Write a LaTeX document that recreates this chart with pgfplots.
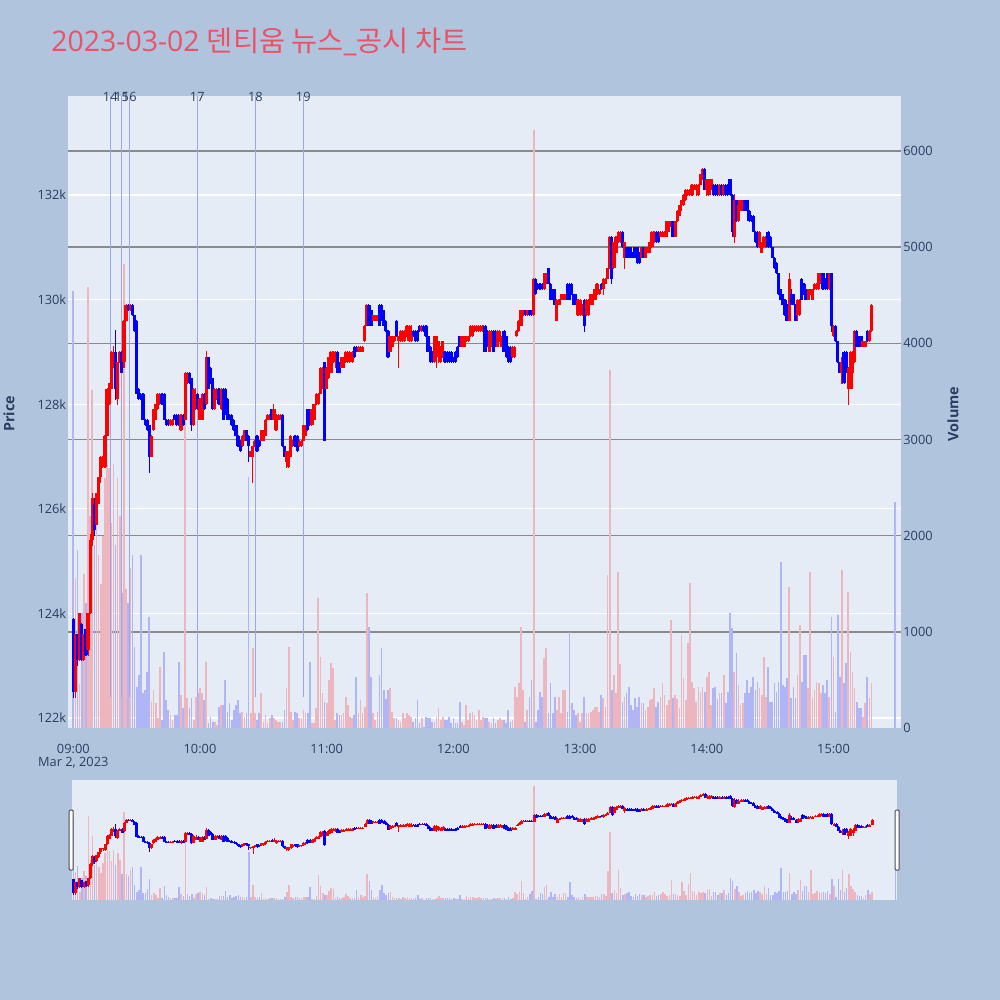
\documentclass[border=0pt]{standalone}
\usepackage{fontspec}
\setmainfont{Open Sans}
\newfontfamily\krfont{Noto Sans CJK KR}
\usepackage{pgfplots}
\usepackage{pgfplotstable}
\pgfplotsset{compat=1.18}

\definecolor{pagebg}{HTML}{B0C4DE}
\definecolor{plotbg}{HTML}{E5ECF6}
\definecolor{fontc}{HTML}{2A3F5F}
\definecolor{titlec}{HTML}{EB5268}
\definecolor{upc}{HTML}{FF0000}
\definecolor{downc}{HTML}{0000FF}
\definecolor{volr}{HTML}{EDB5BD}
\definecolor{volb}{HTML}{B0B5F6}
\definecolor{volgrid}{HTML}{8A8A8A}
\definecolor{newsc}{HTML}{9AA6F2}

% one-minute candles: minutes after 09:00, open, high, low, close (in 100 KRW), volume
\pgfplotstableread{
t o h l c v
0 1239 1239 1224 1225 4540
1 1225 1236 1224 1236 1560
2 1236 1236 1230 1231 1850
3 1231 1240 1231 1240 460
4 1238 1238 1231 1231 1200
5 1231 1236 1231 1236 1600
6 1237 1237 1232 1232 1300
7 1233 1240 1232 1240 4590
8 1240 1255 1240 1254 2200
9 1254 1263 1253 1262 3515
10 1261 1262 1255 1256 1900
11 1257 1263 1257 1263 2300
12 1261 1266 1261 1266 1800
13 1266 1270 1265 1270 1500
14 1269 1270 1268 1270 2000
15 1268 1274 1268 1274 2600
16 1274 1283 1274 1283 2740
17 1280 1284 1280 1284 2700
18 1283 1290 1283 1290 2130
19 1287 1291 1287 1289 2750
20 1290 1294 1281 1283 1900
21 1281 1288 1280 1288 2600
22 1288 1290 1288 1290 2200
23 1290 1290 1286 1286 1400
24 1288 1296 1287 1296 4830
25 1296 1299 1296 1299 1450
26 1299 1299 1298 1298 1300
27 1298 1299 1298 1299 1660
28 1299 1299 1297 1297 1800
29 1297 1297 1294 1294 846
30 1296 1296 1282 1282 430
31 1283 1283 1281 1281 551
32 1282 1282 1281 1281 1800
33 1282 1282 1277 1277 360
34 1277 1277 1276 1276 395
35 1277 1277 1275 1275 585
36 1276 1276 1267 1270 1158
37 1270 1274 1270 1274 274
38 1275 1279 1275 1279 395
39 1277 1280 1277 1280 256
40 1279 1282 1279 1282 100
41 1280 1282 1280 1282 638
42 1282 1282 1280 1280 83
43 1282 1282 1277 1277 794
44 1277 1277 1276 1276 291
45 1277 1277 1276 1276 187
46 1276 1277 1276 1277 135
47 1276 1277 1276 1277 83
48 1278 1278 1277 1277 135
49 1278 1278 1276 1276 135
50 1278 1278 1276 1276 690
51 1275 1278 1275 1278 343
52 1278 1278 1276 1276 204
53 1277 1286 1277 1286 3690
54 1284 1286 1284 1286 308
55 1286 1286 1284 1284 204
56 1285 1285 1275 1276 308
57 1276 1283 1276 1283 83
58 1279 1283 1279 1282 326
59 1282 1282 1279 1279 360
60 1277 1281 1277 1281 412
61 1277 1282 1277 1282 360
62 1282 1282 1279 1279 291
63 1280 1290 1280 1289 690
64 1289 1289 1283 1283 48
65 1287 1287 1284 1284 118
66 1285 1285 1279 1279 65
67 1279 1283 1279 1283 65
68 1281 1283 1281 1283 31
69 1283 1283 1280 1280 222
70 1279 1283 1279 1283 239
71 1283 1283 1277 1277 239
72 1283 1283 1278 1278 499
73 1281 1281 1277 1277 170
74 1278 1278 1277 1277 256
75 1278 1278 1276 1276 83
76 1277 1277 1275 1275 187
77 1276 1276 1274 1274 239
78 1274 1274 1272 1272 291
79 1273 1273 1271 1271 152
80 1272 1274 1272 1274 170
81 1273 1275 1273 1275 118
82 1275 1275 1273 1273 152
83 1274 1274 1269 1272 2610
84 1270 1271 1270 1271 152
85 1270 1272 1265 1272 828
86 1272 1273 1272 1273 152
87 1274 1274 1271 1271 83
88 1273 1273 1272 1272 152
89 1273 1275 1273 1275 360
90 1273 1275 1273 1275 65
91 1274 1277 1274 1277 135
92 1277 1278 1277 1278 48
93 1277 1278 1277 1278 100
94 1279 1279 1277 1277 135
95 1277 1280 1277 1279 100
96 1275 1278 1275 1278 83
97 1277 1278 1277 1278 65
98 1277 1278 1277 1278 65
99 1278 1278 1272 1272 65
100 1272 1272 1270 1270 187
101 1269 1271 1268 1271 412
102 1268 1271 1268 1271 846
103 1270 1274 1270 1274 170
104 1272 1273 1272 1273 83
105 1274 1274 1272 1272 170
106 1274 1274 1271 1271 152
107 1272 1273 1272 1273 100
108 1272 1273 1272 1273 100
109 1273 1276 1273 1276 187
110 1274 1276 1274 1276 152
111 1279 1279 1275 1275 152
112 1279 1279 1276 1276 690
113 1276 1279 1276 1279 48
114 1277 1280 1277 1280 48
115 1280 1282 1280 1282 204
116 1280 1282 1280 1282 1348
117 1282 1287 1282 1287 742
118 1283 1287 1283 1287 360
119 1288 1288 1273 1273 274
120 1283 1287 1283 1287 256
121 1285 1289 1285 1289 499
122 1286 1290 1286 1290 672
123 1288 1290 1288 1290 620
124 1288 1290 1287 1290 83
125 1290 1290 1286 1286 152
126 1288 1288 1286 1286 135
127 1287 1289 1287 1289 135
128 1287 1289 1287 1289 152
129 1288 1290 1288 1290 326
130 1288 1290 1288 1290 239
131 1289 1290 1288 1290 118
132 1288 1290 1288 1290 100
133 1291 1291 1289 1289 135
134 1291 1291 1290 1290 534
135 1290 1291 1290 1291 152
136 1290 1291 1290 1291 291
137 1290 1291 1290 1291 152
138 1292 1295 1292 1295 222
139 1295 1299 1295 1299 1400
140 1299 1299 1295 1295 1054
141 1298 1298 1295 1295 534
142 1296 1297 1296 1297 152
143 1296 1297 1296 1297 83
144 1296 1297 1296 1297 170
145 1299 1299 1295 1295 551
146 1299 1299 1296 1296 828
147 1298 1298 1295 1295 395
148 1296 1296 1294 1294 298
149 1294 1294 1289 1289 395
150 1290 1293 1290 1293 412
151 1291 1293 1291 1293 170
152 1292 1293 1292 1293 100
153 1296 1296 1293 1293 100
154 1292 1293 1287 1293 83
155 1292 1294 1292 1294 65
156 1292 1294 1292 1294 152
157 1292 1294 1292 1293 100
158 1293 1295 1293 1295 152
159 1292 1295 1292 1295 135
160 1292 1295 1292 1294 118
161 1294 1294 1293 1293 65
162 1294 1294 1292 1292 100
163 1294 1294 1292 1292 291
164 1295 1295 1294 1294 48
165 1294 1295 1294 1295 100
166 1295 1295 1294 1294 14
167 1295 1295 1293 1293 118
168 1293 1293 1290 1290 100
169 1291 1291 1288 1288 100
170 1290 1290 1288 1288 65
171 1288 1293 1288 1293 65
172 1290 1293 1287 1293 118
173 1289 1292 1288 1292 204
174 1288 1291 1288 1291 83
175 1289 1292 1289 1292 118
176 1290 1290 1288 1288 83
177 1290 1290 1288 1288 83
178 1290 1290 1288 1288 118
179 1290 1290 1288 1288 48
180 1289 1289 1288 1288 100
181 1290 1290 1288 1288 48
182 1291 1291 1289 1289 48
183 1293 1293 1291 1291 274
184 1291 1293 1291 1293 65
185 1291 1293 1291 1293 31
186 1292 1293 1292 1293 239
187 1292 1293 1292 1293 83
188 1293 1295 1293 1295 152
189 1293 1295 1293 1295 170
190 1294 1295 1294 1295 135
191 1294 1295 1294 1295 83
192 1294 1295 1294 1295 187
193 1294 1295 1294 1295 83
194 1294 1295 1294 1295 118
195 1295 1295 1290 1290 100
196 1294 1294 1291 1291 100
197 1290 1294 1290 1294 65
198 1291 1294 1291 1294 48
199 1294 1294 1290 1290 100
200 1294 1294 1291 1291 48
201 1291 1294 1291 1294 83
202 1292 1294 1292 1294 100
203 1291 1293 1291 1293 83
204 1294 1294 1290 1290 83
205 1293 1293 1289 1289 48
206 1291 1291 1288 1288 187
207 1290 1291 1288 1288 65
208 1289 1291 1289 1291 83
209 1289 1291 1289 1291 430
210 1293 1294 1293 1294 326
211 1294 1296 1294 1296 464
212 1295 1298 1295 1298 1054
213 1297 1298 1297 1298 395
214 1298 1298 1297 1297 65
215 1297 1298 1297 1298 187
216 1298 1298 1297 1297 326
217 1298 1298 1297 1297 499
218 1297 1304 1297 1304 6220
219 1304 1304 1301 1301 65
220 1303 1303 1302 1302 187
221 1303 1303 1302 1302 378
222 1303 1303 1302 1302 326
223 1302 1305 1302 1305 724
224 1303 1305 1303 1305 828
225 1306 1306 1303 1303 152
226 1303 1303 1300 1300 464
227 1302 1302 1300 1300 152
228 1302 1302 1299 1299 326
229 1296 1300 1296 1300 187
230 1299 1300 1299 1300 326
231 1300 1301 1300 1301 152
232 1300 1301 1300 1301 395
233 1300 1301 1300 1301 395
234 1303 1303 1300 1300 170
235 1303 1303 1300 1300 1002
236 1303 1303 1301 1301 256
237 1301 1301 1299 1299 187
238 1301 1301 1299 1299 135
239 1297 1300 1297 1300 152
240 1298 1300 1297 1300 65
241 1297 1299 1297 1299 152
242 1300 1300 1294 1295 326
243 1297 1300 1297 1300 152
244 1297 1300 1297 1300 152
245 1299 1301 1299 1301 170
246 1299 1301 1299 1301 187
247 1300 1302 1300 1302 222
248 1301 1303 1301 1303 222
249 1301 1302 1301 1302 170
250 1303 1303 1302 1302 343
251 1302 1304 1301 1304 308
252 1303 1304 1303 1304 222
253 1304 1306 1304 1306 1591
254 1306 1312 1306 1312 3720
255 1312 1312 1303 1304 395
256 1306 1311 1306 1311 551
257 1309 1312 1309 1312 360
258 1311 1313 1311 1313 1626
259 1311 1313 1311 1313 665
260 1313 1313 1310 1310 274
261 1308 1311 1306 1311 326
262 1310 1310 1308 1308 360
263 1310 1310 1308 1308 430
264 1310 1310 1308 1308 239
265 1309 1309 1308 1308 187
266 1310 1310 1308 1308 308
267 1310 1310 1307 1307 222
268 1309 1309 1307 1307 326
269 1308 1310 1308 1310 256
270 1310 1310 1308 1308 256
271 1308 1310 1308 1310 187
272 1309 1310 1309 1310 222
273 1309 1311 1309 1311 291
274 1310 1313 1310 1313 298
275 1311 1313 1311 1313 412
276 1313 1313 1311 1311 222
277 1313 1313 1311 1311 274
278 1312 1313 1312 1313 326
279 1312 1313 1312 1313 464
280 1312 1313 1312 1313 343
281 1312 1315 1312 1315 239
282 1313 1315 1313 1315 291
283 1314 1315 1314 1315 1123
284 1315 1315 1312 1312 308
285 1312 1315 1312 1315 343
286 1315 1317 1315 1317 298
287 1316 1318 1316 1318 204
288 1318 1319 1317 1319 967
289 1318 1320 1318 1320 516
290 1319 1321 1319 1321 291
291 1320 1321 1320 1321 880
292 1320 1321 1320 1321 1504
293 1320 1322 1320 1322 482
294 1321 1322 1321 1322 412
295 1321 1322 1320 1322 274
296 1320 1322 1320 1322 430
297 1322 1324 1322 1324 378
298 1323 1325 1323 1325 430
299 1325 1325 1321 1321 378
300 1321 1323 1320 1323 534
301 1320 1323 1320 1323 586
302 1321 1323 1321 1323 239
303 1322 1322 1320 1320 412
304 1322 1322 1320 1320 430
305 1322 1322 1320 1320 298
306 1320 1322 1320 1322 360
307 1322 1322 1320 1320 360
308 1320 1322 1320 1322 551
309 1322 1322 1320 1320 256
310 1322 1322 1320 1320 378
311 1323 1323 1320 1320 1192
312 1320 1320 1312 1313 1036
313 1312 1320 1311 1319 586
314 1319 1319 1315 1315 776
315 1315 1319 1315 1318 447
316 1317 1319 1317 1319 239
317 1317 1319 1317 1319 256
318 1319 1319 1317 1317 360
319 1319 1319 1317 1317 499
320 1317 1317 1315 1315 360
321 1316 1316 1315 1315 430
322 1316 1316 1313 1313 534
323 1313 1313 1311 1311 395
324 1313 1313 1310 1310 482
325 1310 1313 1310 1313 412
326 1309 1311 1309 1311 343
327 1310 1312 1310 1312 742
328 1310 1312 1310 1312 326
329 1313 1313 1310 1310 638
330 1312 1312 1310 1310 274
331 1310 1310 1308 1308 274
332 1308 1308 1306 1306 464
333 1307 1307 1305 1305 378
334 1305 1305 1301 1301 482
335 1302 1302 1300 1300 1730
336 1301 1301 1299 1299 447
337 1300 1300 1297 1297 430
338 1299 1299 1296 1296 516
339 1296 1305 1296 1304 1470
340 1301 1302 1299 1299 308
341 1301 1301 1299 1299 430
342 1299 1299 1296 1296 308
343 1297 1300 1296 1300 551
344 1297 1300 1297 1300 1071
345 1304 1304 1300 1300 482
346 1303 1303 1301 1301 759
347 1302 1302 1300 1300 759
348 1300 1302 1300 1302 412
349 1301 1302 1301 1302 1626
350 1300 1302 1300 1302 308
351 1302 1303 1302 1303 395
352 1302 1303 1302 1303 482
353 1302 1305 1302 1305 464
354 1303 1305 1303 1305 360
355 1305 1305 1302 1302 447
356 1304 1304 1302 1302 360
357 1305 1305 1302 1302 499
358 1302 1305 1302 1305 326
359 1305 1305 1294 1295 1158
360 1293 1295 1293 1295 742
361 1295 1295 1292 1292 170
362 1292 1292 1288 1288 1175
363 1288 1288 1286 1286 534
364 1286 1289 1284 1288 1643
365 1290 1290 1284 1284 464
366 1290 1290 1286 1287 672
367 1283 1287 1280 1287 1418
368 1283 1290 1283 1290 794
369 1286 1290 1283 1289 586
370 1288 1294 1288 1294 412
371 1294 1294 1291 1291 274
372 1293 1293 1291 1291 204
373 1293 1293 1291 1291 204
374 1291 1292 1291 1292 118
375 1291 1292 1291 1292 256
376 1294 1294 1292 1292 534
377 1292 1294 1292 1294 308
378 1294 1299 1294 1299 464
389 1291 1291 1291 1291 2350
}\candles

\pgfplotsset{
  base/.style={scale only axis, anchor=north west,
    axis line style={draw=none}, major tick length=0pt,
    ticklabel style={font=\fontsize{6.4}{6.5}\selectfont, text=fontc, inner sep=0pt}},
  mainbox/.style={base, at={(34pt,-48pt)}, width=416.5pt, height=316pt,
    xmin=-2.51, xmax=391.96},
  slidebox/.style={base, at={(36pt,-390pt)}, width=412.5pt, height=60pt,
    xmin=-0.7, xmax=389.8, xtick=\empty, ytick=\empty},
  pricey/.style={ymin=1218.09, ymax=1338.93},
  voly/.style={ymin=0, ymax=6572},
  updown/.style={colormap={updown}{color=(downc) color=(upc)},
    point meta min=0, point meta max=1},
  volmap/.style={colormap={volmap}{color=(volb) color=(volr)},
    point meta min=0, point meta max=1},
  dir meta/.style={point meta={\thisrow{c}>\thisrow{o}}},
  wick/.style={dir meta, quiver={u=0, v=\thisrow{h}-\thisrow{l}, colored=mapped color},
    line cap=rect},
  body/.style={dir meta, quiver={u=0, v=\thisrow{c}-\thisrow{o}, colored=mapped color}},
  volbar/.style={dir meta, quiver={u=0, v=\thisrow{v}, colored=mapped color}},
  newsline/.style={newsc, line width=0.5pt},
}

\begin{document}
\begin{tikzpicture}
\fill[pagebg] (0,0) rectangle (500pt,-500pt);
\useasboundingbox (0,0) rectangle (500pt,-500pt);

\node[anchor=base west, inner sep=0pt, text=titlec,
  font=\fontsize{14.2}{16}\selectfont] at (25.5pt,-25.8pt)
  {2023-03-02 {\krfont 덴티움 뉴스}\_{\krfont 공시 차트}};

% price panel: background, price grid and time axis
\begin{axis}[mainbox, pricey,
  axis background/.style={fill=plotbg},
  ymajorgrids, grid style={white, line width=0.6pt},
  ytick={1220,1240,1260,1280,1300,1320},
  yticklabels={122k,124k,126k,128k,130k,132k},
  yticklabel style={xshift=-0.7pt},
  xtick={0,60,120,180,240,300,360},
  xticklabels={{09:00\\Mar 2, 2023},10:00,11:00,12:00,13:00,14:00,15:00},
  xticklabel style={align=center, yshift=-8pt}]
\end{axis}

% volume on the secondary axis
\begin{axis}[mainbox, voly, volmap, xtick=\empty,
  yticklabel pos=right,
  ymajorgrids, grid style={volgrid, line width=0.7pt},
  ytick={1000,2000,3000,4000,5000,6000},
  yticklabels={1000,2000,3000,4000,5000,6000},
  extra y ticks={0}, extra y tick labels={0},
  extra y tick style={grid=none},
  yticklabel style={xshift=1pt}]
\addplot[volbar, line width=0.85pt] table[x=t, y expr=0] {\candles};
\end{axis}

% candlesticks and disclosure markers
\begin{axis}[mainbox, pricey, updown, hide axis, clip mode=individual]
\addplot[newsline] coordinates {(17.5,1224) (17.5,1338.93)};
\addplot[newsline] coordinates {(22.9,1224) (22.9,1338.93)};
\addplot[newsline] coordinates {(26.6,1224) (26.6,1338.93)};
\addplot[newsline] coordinates {(58.7,1224) (58.7,1338.93)};
\addplot[newsline] coordinates {(86.2,1224) (86.2,1338.93)};
\addplot[newsline] coordinates {(108.9,1224) (108.9,1338.93)};
\addplot[wick, line width=0.55pt] table[x=t, y=l] {\candles};
\addplot[body, line width=1.6pt] table[x=t, y=o] {\candles};
\begin{scope}[every node/.style={font=\fontsize{6.4}{6.5}\selectfont, text=fontc, inner sep=0pt}]
\node at (axis cs:17.5,1338.7) {14};
\node at (axis cs:22.9,1338.7) {15};
\node at (axis cs:26.6,1338.7) {16};
\node at (axis cs:58.7,1338.7) {17};
\node at (axis cs:86.2,1338.7) {18};
\node at (axis cs:108.9,1338.7) {19};
\end{scope}
\end{axis}

\node[rotate=90, inner sep=0pt, text=fontc, font=\bfseries\fontsize{7.2}{8}\selectfont] at (4.5pt,-207pt) {Price};
\node[rotate=90, inner sep=0pt, text=fontc, font=\bfseries\fontsize{7.2}{8}\selectfont] at (476.5pt,-207pt) {Volume};

% range slider overview
\begin{axis}[slidebox, voly, volmap, axis background/.style={fill=plotbg}]
\addplot[volbar, line width=0.75pt] table[x=t, y expr=0] {\candles};
\end{axis}
\begin{axis}[slidebox, pricey, updown, hide axis]
\addplot[wick, line width=0.5pt] table[x=t, y=l] {\candles};
\addplot[body, line width=1.5pt] table[x=t, y=o] {\candles};
\end{axis}
\filldraw[fill=white, draw=black!70, line width=0.5pt, rounded corners=0.5pt]
  (34.6pt,-405pt) rectangle (36.6pt,-435pt);
\filldraw[fill=white, draw=black!70, line width=0.5pt, rounded corners=0.5pt]
  (447.6pt,-405pt) rectangle (449.6pt,-435pt);
\end{tikzpicture}
\end{document}
